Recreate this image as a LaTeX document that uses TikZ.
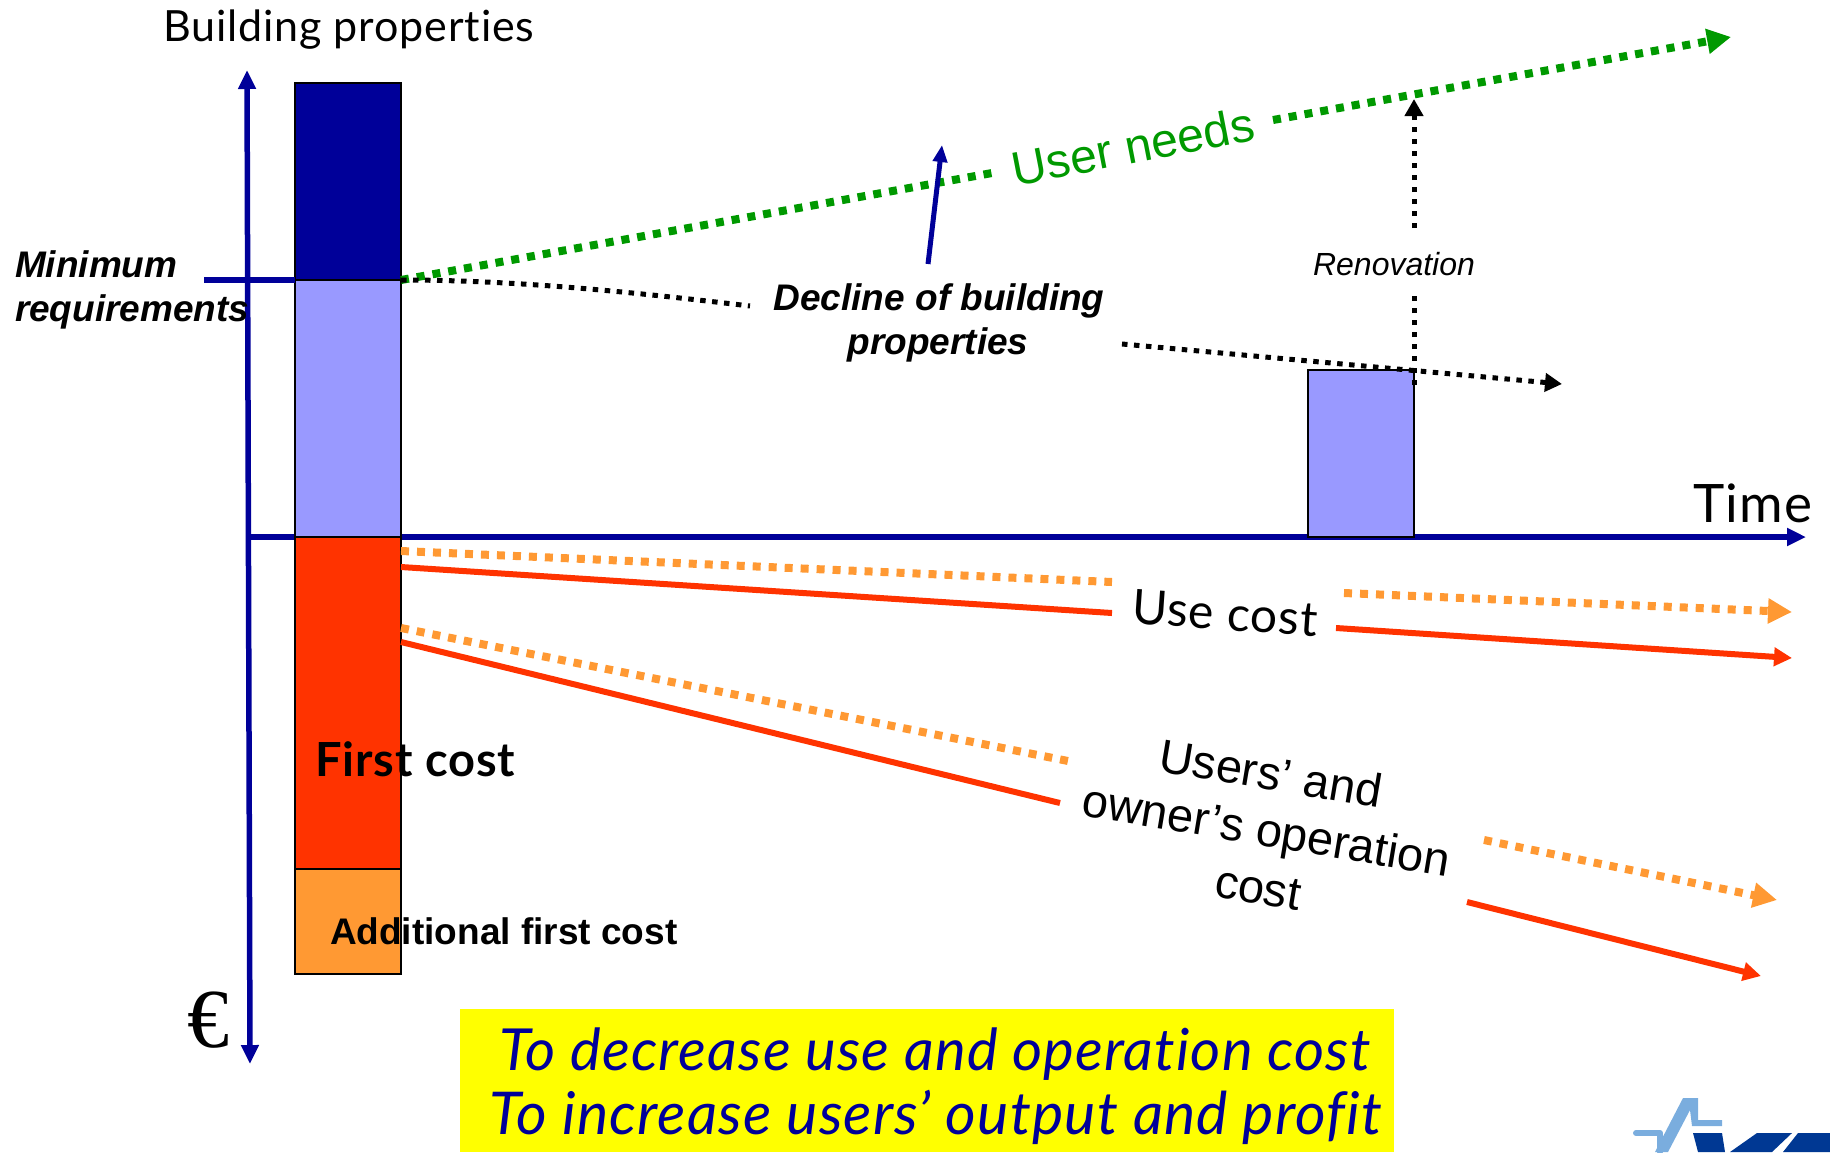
\documentclass[tikz,border=0pt]{standalone}
\usepackage{fontspec}
\setmainfont{Liberation Sans}
\newfontfamily\comic[LetterSpace=2.0,Ligatures=NoCommon]{Lato}
\newfontfamily\euroserif{Liberation Serif}
\usetikzlibrary{arrows.meta}
\definecolor{navyaxis}{RGB}{0,0,153}
\definecolor{lilac}{RGB}{153,153,255}
\definecolor{redbar}{RGB}{255,51,0}
\definecolor{orangebar}{RGB}{255,153,51}
\definecolor{greenline}{RGB}{0,153,0}
\definecolor{logolight}{RGB}{122,173,222}
\definecolor{logodark}{RGB}{0,56,147}
\definecolor{yellowbox}{RGB}{255,255,0}
\newcommand{\fs}[1]{\fontsize{#1}{#1}\selectfont}
\tikzset{
  barbox/.style={draw=black,line width=2pt,minimum width=106pt,inner sep=0pt,outer sep=0pt,anchor=north west},
  axisline/.style={draw=navyaxis,line width=5.5pt},
  axistip/.style={-{Triangle[length=19pt,width=17pt]}},
  greendot/.style={draw=greenline,line width=8pt,dash pattern=on 8pt off 8pt},
  blackdot/.style={draw=black,line width=5pt,dash pattern=on 5.5pt off 6.5pt},
  orangedot/.style={draw=orangebar,line width=8pt,dash pattern=on 8pt off 8pt},
  redline/.style={draw=redbar,line width=6pt},
  lbl/.style={inner sep=0pt,outer sep=0pt,align=center},
  tipg/.style={-{Triangle[length=24pt,width=24pt]}},
  tipb/.style={-{Triangle[length=17pt,width=18pt]}},
  tipo/.style={-{Triangle[length=24pt,width=24pt]}},
  tipr/.style={-{Triangle[length=18pt,width=18pt]}},
}
\begin{document}
\begin{tikzpicture}[x=1pt,y=-1pt]
\useasboundingbox (0,0) rectangle (1830,1152);
% yellow box
\node[fill=yellowbox,minimum width=934pt,minimum height=143pt,inner sep=0pt,outer sep=0pt,anchor=north west] (goal) at (460,1009) {};
% named points
\coordinate (ytop) at (247,70);
\coordinate (ybot) at (250,1064);
\coordinate (xs) at (250,537);
\coordinate (xe) at (1806,537);
\coordinate (mins) at (204,280);
\coordinate (g0) at (401,280);
\coordinate (g1) at (992,173);
\coordinate (g2) at (1273,120);
\coordinate (g3) at (1731,37);
\coordinate (k1) at (750,306);
\coordinate (k2) at (1122,344);
\coordinate (k3) at (1562,384);
\coordinate (da) at (928,264);
\coordinate (db) at (942,145);
\coordinate (r0) at (1414,385);
\coordinate (r1) at (1414,296);
\coordinate (r2) at (1414,228);
\coordinate (r3) at (1414,99);
\coordinate (oa0) at (401,551);
\coordinate (oa1) at (1112,582);
\coordinate (oa2) at (1344,593);
\coordinate (oa3) at (1792,612);
\coordinate (ra0) at (401,567);
\coordinate (ra1) at (1112,613);
\coordinate (ra2) at (1336,628);
\coordinate (ra3) at (1792,658);
\coordinate (ob0) at (401,628);
\coordinate (ob1) at (1068,761);
\coordinate (ob2) at (1484,840);
\coordinate (ob3) at (1777,900);
\coordinate (rb0) at (401,642);
\coordinate (rb1) at (1060,803);
\coordinate (rb2) at (1467,902);
\coordinate (rb3) at (1761,976);
% axes (under the bars)
\draw[axisline,axistip] (xs) -- (xe);
\draw[axisline,{Triangle[length=19pt,width=17pt]}-{Triangle[length=19pt,width=17pt]}] (ytop) -- (ybot);
% bars
\node[barbox,fill=navyaxis,minimum height=197pt] (b1) at (295,83) {};
\node[barbox,fill=lilac,minimum height=257pt] (b2) at (295,280) {};
\node[barbox,fill=redbar,minimum height=332pt] (b3) at (295,537) {};
\node[barbox,fill=orangebar,minimum height=105pt] (b4) at (295,869) {};
\node[barbox,fill=lilac,minimum height=167pt] (b5) at (1308,370) {};
\draw[axisline] (mins) -- (b1.south west);
% dotted lines
\draw[greendot] (g0) -- (g1);
\draw[greendot,tipg] (g2) -- (g3);
\draw[blackdot] (g0) .. controls (520,280) and (640,293) .. (k1);
\draw[blackdot,tipb] (k2) -- (k3);
\draw[navyaxis,line width=5pt,-{Triangle[length=17pt,width=14pt]}] (da) -- (db);
\draw[blackdot] (r0) -- (r1);
\draw[blackdot,tipb] (r2) -- (r3);
\draw[orangedot] (oa0) -- (oa1);
\draw[orangedot,tipo] (oa2) -- (oa3);
\draw[redline] (ra0) -- (ra1);
\draw[redline,tipr] (ra2) -- (ra3);
\draw[orangedot] (ob0) -- (ob1);
\draw[orangedot,tipo] (ob2) -- (ob3);
\draw[redline] (rb0) -- (rb1);
\draw[redline,tipr] (rb2) -- (rb3);
% labels
\node[lbl,anchor=base] (tbp) at (349,41) {\comic\fs{43}Building properties};
\node[lbl,anchor=base west,align=left] (tmin) at (15,277) {\fs{37}\bfseries\itshape Minimum};
\node[lbl,anchor=base west,align=left] (treq) at (15,321) {\fs{37}\bfseries\itshape requirements};
\node[lbl,rotate=11] (tun) at (1133,146) {\color{greenline}\fs{48}User needs};
\node[lbl,anchor=base] (td1) at (939,310) {\fs{37}\bfseries\itshape Decline of building};
\node[lbl,anchor=base] (td2) at (938,354) {\fs{37}\bfseries\itshape properties};
\node[lbl] (tren) at (1394,264) {\fs{32}\itshape Renovation};
\node[lbl] (ttime) at (1753,503) {\comic\fs{53}Time};
\node[lbl,rotate=-4] (tuse) at (1225,613) {\comic\fs{48}Use cost};
\node[lbl,rotate=-9.5] (tu1) at (1271,773) {\fs{47}Users’ and};
\node[lbl,rotate=-9.5] (tu2) at (1266,834) {\fs{47}owner’s operation};
\node[lbl,rotate=-9.5] (tu3) at (1258,889) {\fs{47}cost};
\node[lbl,anchor=base west] (tfc) at (315,776) {\comic\fs{47}\bfseries First cost};
\node[lbl,anchor=base west] (tafc) at (330,944) {\fs{37}\bfseries Additional first cost};
\node[lbl] (teur) at (208,1020) {\euroserif\fs{84}€};
\node[lbl,anchor=base] (ty1) at (935,1070) {\comic\fs{58}\itshape\color{navyaxis}To decrease use and operation cost};
\node[lbl,anchor=base] (ty2) at (936,1134) {\comic\fs{59}\itshape\color{navyaxis}To increase users’ output and profit};
% logo fragment
\draw[logolight,line width=6pt,line join=round,line cap=round] (1636,1133) -- (1660,1133) -- (1660,1152);
\fill[logolight] (1655,1152) -- (1683,1098) -- (1698,1098) -- (1698,1120) -- (1722,1120) -- (1722,1126) -- (1692,1126) -- (1690,1110) -- (1668,1152) -- cycle;
\fill[logodark] (1693,1133) -- (1722,1133) -- (1725,1152) -- (1698,1152) -- cycle;
\fill[logodark] (1757,1133) -- (1792,1133) -- (1772,1152) -- (1730,1152) -- cycle;
\fill[logodark] (1798,1133) -- (1830,1133) -- (1830,1152) -- (1783,1152) -- cycle;
\end{tikzpicture}
\end{document}
